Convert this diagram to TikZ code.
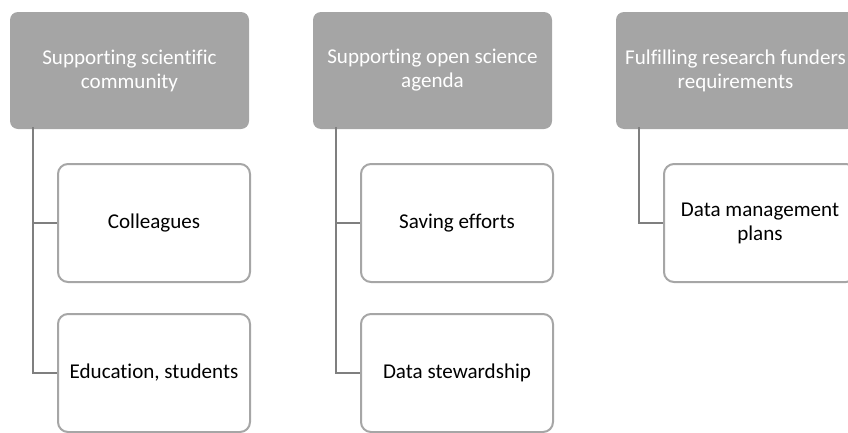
\documentclass[tikz,border=0pt]{standalone}
\usepackage{fontspec}
\setmainfont{Carlito}[Ligatures=CommonOff]
\usepackage{tikz}

\definecolor{headgray}{HTML}{A5A5A5}
\definecolor{edgegray}{HTML}{A6A6A6}
\definecolor{linkgray}{HTML}{7F7F7F}

\begin{document}
\begin{tikzpicture}[x=0.75pt,y=0.75pt,yscale=-1,xscale=1,
  headbox/.style={rectangle, rounded corners=6pt, fill=headgray, draw=none, minimum width=179.25pt, minimum height=87.75pt, inner sep=0pt, align=center, text=white, font=\fontsize{15.8}{18}\selectfont},
  itembox/.style={rectangle, rounded corners=7.5pt, fill=white, draw=edgegray, line width=1.5pt, minimum width=144pt, minimum height=88.5pt, inner sep=0pt, align=center, text=black, font=\fontsize{15.8}{18}\selectfont},
  link/.style={draw=linkgray, line width=1.5pt}]
%set diagram to 848 x 432
\useasboundingbox (0,0) rectangle (848,432);
\clip (0,0) rectangle (848,432);

%Shape: Rounded Rect [id:hd1] 
\node (hd1) [headbox] at (129.5,70.5) {Supporting scientific\\community};
%Shape: Rounded Rect [id:hd2] 
\node (hd2) [headbox] at (432.5,70.5) {Supporting open science\\agenda};
%Shape: Rounded Rect [id:hd3] 
\node (hd3) [headbox] at (735.5,70.5) {Fulfilling research funders\\requirements};

%Shape: Rounded Rect [id:it11] 
\node (it11) [itembox] at (154,223) {Colleagues};
%Shape: Rounded Rect [id:it12] 
\node (it12) [itembox] at (154,373) {Education, students};
%Shape: Rounded Rect [id:it21] 
\node (it21) [itembox] at (457,223) {Saving efforts};
%Shape: Rounded Rect [id:it22] 
\node (it22) [itembox] at (457,373) {Data stewardship};
%Shape: Rounded Rect [id:it31] 
\node (it31) [itembox] at (760,223) {Data management\\plans};

%Straight Lines [id:ln1] 
\draw [link] ([xshift=17.25pt,yshift=-1.5pt]hd1.south west) |- (it11.west);
\draw [link] ([xshift=17.25pt,yshift=-1.5pt]hd1.south west) |- (it12.west);
%Straight Lines [id:ln2] 
\draw [link] ([xshift=17.25pt,yshift=-1.5pt]hd2.south west) |- (it21.west);
\draw [link] ([xshift=17.25pt,yshift=-1.5pt]hd2.south west) |- (it22.west);
%Straight Lines [id:ln3] 
\draw [link] ([xshift=17.25pt,yshift=-1.5pt]hd3.south west) |- (it31.west);

\end{tikzpicture}
\end{document}
